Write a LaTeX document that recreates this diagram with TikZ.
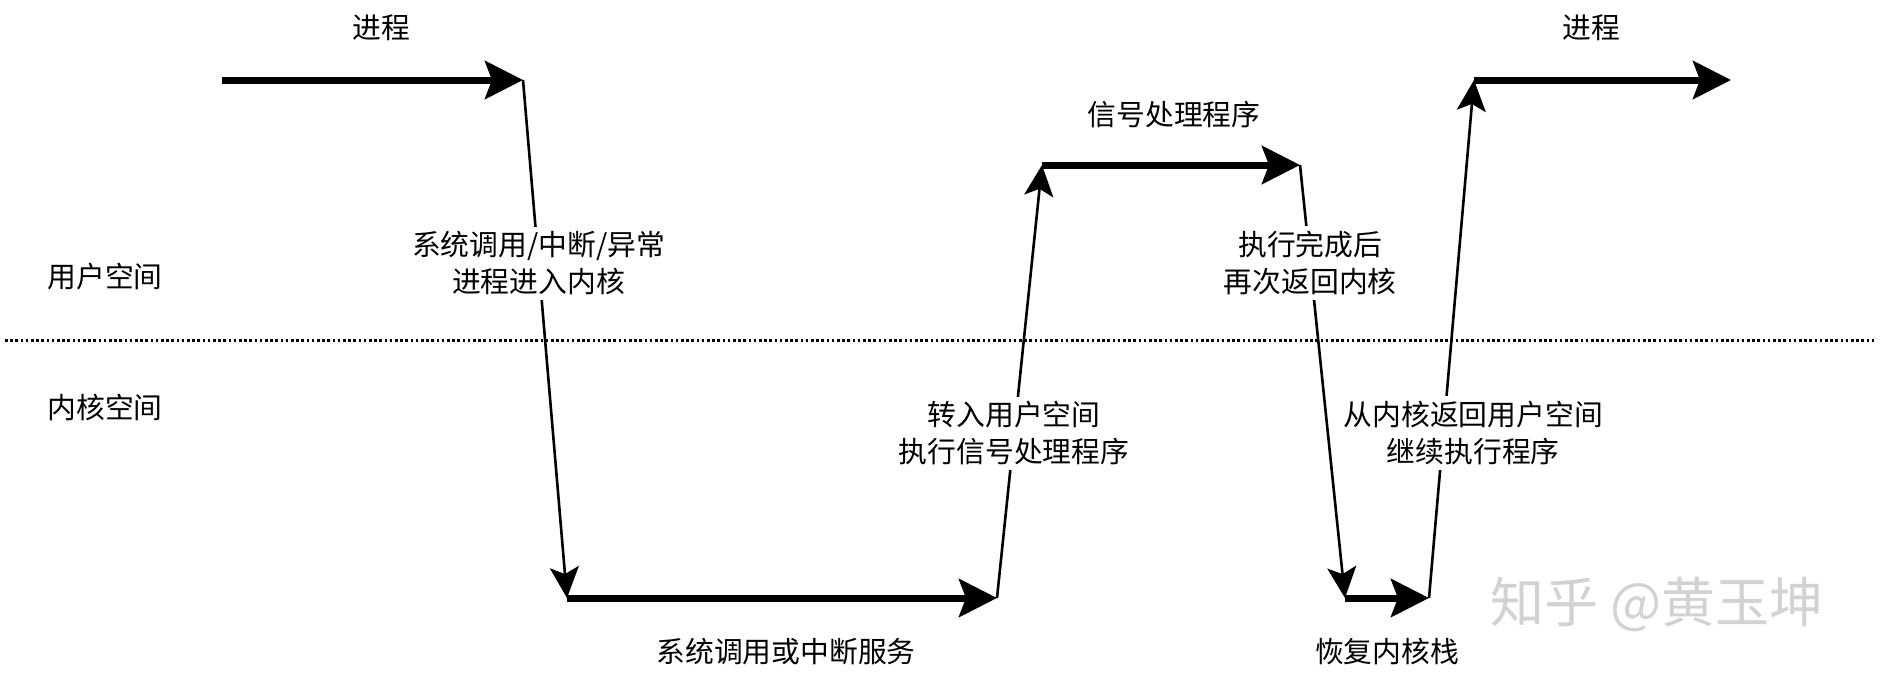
\documentclass[tikz,border=0pt]{standalone}
\usepackage{fontspec}
\setmainfont{Noto Sans CJK SC}
\usetikzlibrary{arrows.meta}
\begin{document}
\begin{tikzpicture}[x=1pt,y=-1pt,
  txt/.style={font=\fontsize{28.8}{37}\selectfont, inner sep=0pt, align=center},
  lbl/.style={txt, fill=white, inner sep=5pt},
  bigarrow/.style={line width=7pt, -{Stealth[length=38pt,width=38pt,inset=7pt]}},
  thinarrow/.style={line width=2.6pt, -{Stealth[length=31pt,width=29pt,inset=7pt]}},
  divider/.style={line width=3pt, dash pattern=on 2.6pt off 2.6pt}
]
\useasboundingbox (0,0) rectangle (1880,680);
\fill[white] (0,0) rectangle (1880,680);

\coordinate (p0) at (222,80);
\coordinate (p1) at (523,80);
\coordinate (p2) at (567,598);
\coordinate (p3) at (997,598);
\coordinate (p4) at (1042,165);
\coordinate (p5) at (1300,165);
\coordinate (p6) at (1345,598);
\coordinate (p7) at (1429,598);
\coordinate (p8) at (1474,80);
\coordinate (p9) at (1731,80);
\coordinate (dl) at (5,340);
\coordinate (dr) at (1875,340);

% divider
\draw[divider] (dl) -- (dr);

% labels
\node[txt] (proc1) at (381,28) {进程};
\node[txt] (proc2) at (1591,28) {进程};
\node[txt] (sig) at (1174,115) {信号处理程序};
\node[txt] (user) at (105,277) {用户空间};
\node[txt] (kern) at (105,407) {内核空间};
\node[txt] (svc) at (786,652) {系统调用或中断服务};
\node[txt] (rest) at (1387,652) {恢复内核栈};
\node[font=\fontsize{54}{60}\selectfont, text=gray!35, inner sep=0pt] (wm) at (1657,604) {知乎 @黄玉坤};

% thick arrows
\draw[bigarrow] (p0) -- (p1);
\draw[bigarrow] (p2) -- (p3);
\draw[bigarrow] (p4) -- (p5);
\draw[bigarrow] (p6) -- (p7);
\draw[bigarrow] (p8) -- (p9);

% thin transitions
\draw[thinarrow] (p1) -- node[lbl, pos=0.354] (l1) {系统调用/中断/异常\\进程进入内核} (p2);
\draw[thinarrow] (p3) -- node[lbl, pos=0.38] (l2) {转入用户空间\\执行信号处理程序} (p4);
\draw[thinarrow] (p5) -- node[lbl, pos=0.227] (l3) {执行完成后\\再次返回内核} (p6);
\draw[thinarrow] (p7) -- node[lbl, pos=0.318, xshift=30pt] (l4) {从内核返回用户空间\\继续执行程序} (p8);
\end{tikzpicture}
\end{document}
